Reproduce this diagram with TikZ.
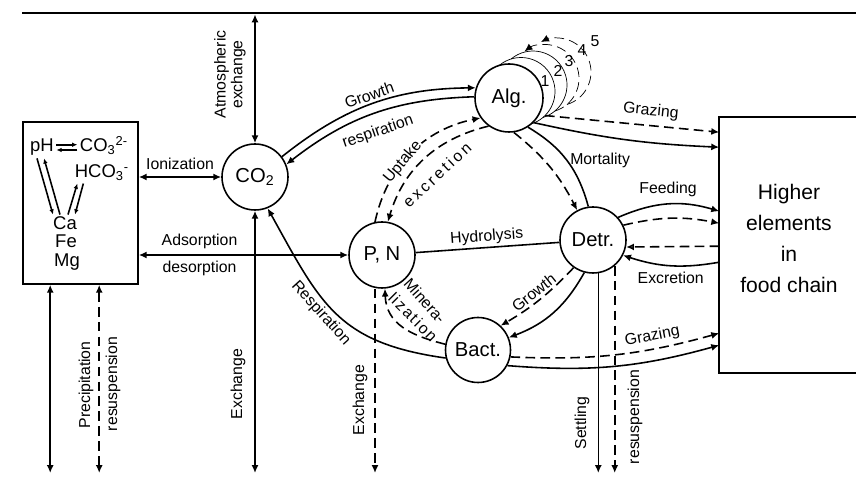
\documentclass[tikz,border=0pt]{standalone}
\usepackage{fontspec}
\setmainfont{Liberation Sans}
\usetikzlibrary{arrows.meta,positioning,backgrounds}
\tikzset{
    %Define standard arrow tip
    >={Latex[length=4.5pt,width=4pt]},
    var/.style={
      circle,
      draw=black, line width=0.9pt,
      fill=white,
      minimum size=1.32cm,
      inner sep=0pt,
      font=\fontsize{11.5}{13}\selectfont},
    punkt/.style={
      rectangle,
      draw=black, line width=0.9pt,
      inner sep=0pt},
    algring/.style={
      circle,
      fill=white,
      minimum size=1.36cm,
      inner sep=0pt, outer sep=0pt},
    lbl/.style={
      font=\fontsize{9}{9.5}\selectfont,
      inner sep=1.5pt},
    chemtxt/.style={
      font=\fontsize{10.5}{11}\selectfont,
      inner sep=1pt},
    dashflow/.style={dash pattern=on 5.5pt off 3pt},
    opentip/.style={-{Latex[open,length=4.5pt,width=4pt]}},
    tinytip/.style={-{Latex[length=3pt,width=2.6pt]}},
}

\begin{document}
\begin{tikzpicture}[node distance=2.5cm, line width=0.9pt]
    \useasboundingbox (0,0) rectangle (17.12,-9.54);
    % water surface and sediment
    \coordinate (sl) at (0.44,-0.26);
    \coordinate (sr) at (17.12,-0.26);
    \coordinate (bot) at (0,-9.46);
    \draw[line width=1.5pt] (sl) -- (sr);

    % compartments
    \node (co2) [var] at (5.10,-3.54)
          {CO\textsubscript{2}};
    \node (pn) [var] [right of=co2, xshift=0.04cm, yshift=-1.56cm]
          {P, N};
    \node (alg) [var, minimum size=1.36cm] [right of=pn, xshift=0.04cm, yshift=3.14cm]
          {Alg.};
    \node (detr) [var] [right of=pn, xshift=1.72cm, yshift=0.30cm]
          {Detr.};
    \node (bact) [var, minimum size=1.30cm] [below of=pn, xshift=1.92cm, yshift=0.60cm]
          {Bact.};

    % algae generations behind Alg.
    \begin{scope}[on background layer]
      \node (ring4) [algring] at ([shift={(0.96,0.52)}]alg.center) {};
      \node (ring3) [algring] at ([shift={(0.72,0.39)}]alg.center) {};
      \node (ring2) [algring] at ([shift={(0.48,0.26)}]alg.center) {};
      \node (ring1) [algring] at ([shift={(0.24,0.13)}]alg.center) {};
      \draw[dashflow, ->] (ring4.287) arc[start angle=-73, end angle=118, radius=0.68cm];
      \draw[dashflow, ->] (ring3.287) arc[start angle=-73, end angle=127, radius=0.68cm];
      \draw (ring2.287) arc[start angle=-73, end angle=130, radius=0.68cm];
      \draw (ring1.287) arc[start angle=-73, end angle=130, radius=0.68cm];
    \end{scope}
    \node (n1) [lbl] at (10.90,-1.62) {1};
    \node (n2) [lbl] at (11.16,-1.42) {2};
    \node (n3) [lbl] at (11.38,-1.22) {3};
    \node (n4) [lbl] at (11.64,-1.00) {4};
    \node (n5) [lbl] at (11.90,-0.82) {5};

    % inorganic box
    \node (minbox) [punkt, minimum width=2.30cm, minimum height=3.24cm] at (1.61,-4.06) {};
    \node (ph) [chemtxt, anchor=base] at (0.84,-3.04) {pH};
    \node (co3) [chemtxt, anchor=base] at (2.08,-3.04) {CO\textsubscript{3}\textsuperscript{2-}};
    \node (hco3) [chemtxt, anchor=base] at (2.04,-3.56) {HCO\textsubscript{3}\textsuperscript{-}};
    \node (ca) [chemtxt, anchor=base] at (1.30,-4.60) {Ca};
    \node (fe) [chemtxt, anchor=base] at (1.32,-4.96) {Fe};
    \node (mg) [chemtxt, anchor=base] at (1.34,-5.33) {Mg};
    \draw[tinytip] ([yshift=1.5pt]ph.mid east) -- ([yshift=1.5pt]co3.mid west);
    \draw[tinytip] ([yshift=-1.5pt]co3.mid west) -- ([yshift=-1.5pt]ph.mid east);
    \draw[tinytip] ([xshift=-0.10cm]ph.south) -- ([xshift=-0.24cm]ca.north);
    \draw[tinytip] ([xshift=-0.10cm]ca.north) -- ([xshift=0.04cm]ph.south);
    \draw[tinytip] ([xshift=0.22cm]hco3.south west) -- ([xshift=0.20cm]ca.north);
    \draw[tinytip] ([xshift=0.06cm]ca.north) -- ([xshift=0.10cm]hco3.south west);

    % higher elements
    \node (hec) [punkt, draw=none, minimum width=2.72cm, minimum height=5.08cm] at (15.76,-4.90) {};
    \draw (hec.north east) -- (hec.north west) -- (hec.south west) -- (hec.south east);
    \node (hect) [font=\fontsize{12}{17.5}\selectfont, align=center] at (15.78,-4.77)
          {Higher\\elements\\in\\food chain};

    % exchange with atmosphere and sediment
    \draw[<->, shorten <=0.8pt] (co2 |- sl) -- (co2);
    \node (latm) [lbl, rotate=90, align=center] at (4.60,-1.49) {Atmospheric\\exchange};
    \draw[<->] (co2.south) -- (co2.south |- bot);
    \node (lexc1) [lbl, rotate=90] at (4.76,-7.68) {Exchange};
    \draw[<->] ([xshift=0.56cm]minbox.south west) -- ([xshift=0.56cm]minbox.south west |- bot);
    \draw[<->, dashflow] ([xshift=1.54cm]minbox.south west) -- ([xshift=1.54cm]minbox.south west |- bot);
    \node (lpre) [lbl, rotate=90] at (1.72,-7.70) {Precipitation};
    \node (lres1) [lbl, rotate=90] at (2.26,-7.68) {resuspension};
    \draw[->, dashflow] ([xshift=-0.14cm]pn.south) -- ([xshift=-0.14cm]pn.south |- bot);
    \node (lexc2) [lbl, rotate=90] at (7.20,-8.00) {Exchange};
    \draw[->] (detr.279) -- (detr.279 |- bot);
    \draw[->, dashflow] (detr.310) -- (detr.310 |- bot);
    \node (lset) [lbl, rotate=90] at (11.64,-8.46) {Settling};
    \node (lres2) [lbl, rotate=90] at (12.70,-8.34) {resuspension};

    % inorganic exchange
    \draw[<->] (minbox.east |- co2) -- (co2)
          node [lbl, above=2.5pt, midway] (lion) {Ionization};
    \draw[<->] (pn.west -| minbox.east) -- (pn.west)
          node [lbl, above=1.5pt, pos=0.29] (lads) {Adsorption}
          node [lbl, below=1.5pt, pos=0.29] (ldes) {desorption};
    \draw (pn) -- node [lbl, above, sloped] (lhyd) {Hydrolysis} (detr);

    % algae
    \draw[->] (co2.37) to[bend left=19]
          node [lbl, above, sloped, pos=0.5] (lgro1) {Growth} (alg.163);
    \draw[->] (alg.178) to[bend right=18] (co2.22);
    \node (lresp1) [lbl, rotate=19] at (7.56,-2.64) {respiration};
    \draw[->, dashflow] (pn.102) to[bend left=33]
          node [lbl, sloped, pos=0.42, fill=white, inner sep=0.5pt] (lupt) {Uptake} (alg.215);
    \draw[->, dashflow] (alg.234) to[bend right=30] (pn.80);
    \node (lexcr) [lbl, rotate=43] at (8.74,-3.50)
          {e\hspace{1.6pt}x\hspace{1.6pt}c\hspace{1.6pt}r\hspace{1.6pt}e\hspace{1.6pt}t\hspace{1.6pt}i\hspace{1.6pt}o\hspace{1.6pt}n};
    \draw (alg.303) to[bend left=22]
          node [lbl, right, pos=0.5] (lmor) {Mortality} (detr.98);
    \draw[->, dashflow] (alg.278) to[bend left=12] (detr.118);
    \draw[->, dashflow] (ring1.315) --
          node [lbl, above=2pt, sloped, pos=0.6] (lgraz1) {Grazing} ([yshift=-0.30cm]hec.north west);
    \draw[->] (alg.315) to[bend right=5] ([yshift=-0.60cm]hec.north west);

    % detritus
    \draw[->] (detr.42) to[bend left=20]
          node [lbl, above=2pt, pos=0.5] (lfee) {Feeding} ([yshift=-1.88cm]hec.north west);
    \draw[->, dashflow] (detr.26) to[bend left=12] ([yshift=-2.12cm]hec.north west);
    \draw[opentip, dashflow] ([yshift=-2.58cm]hec.north west) -- (detr.348);
    \draw[->] ([yshift=-2.90cm]hec.north west) to[bend left=14]
          node [lbl, below=1.5pt, pos=0.5] (lexr) {Excretion} (detr.333);
    \draw[->, dashflow] (detr.235) to[bend left=8]
          node [lbl, above, sloped, pos=0.5] (lgro2) {Growth} (bact.47);
    \draw[->] (detr.255) to[bend left=20] (bact.22);

    % bacteria
    \draw[->, dashflow] (bact.170) to[out=166, in=-88, looseness=1.1] (pn.275);
    \node (lmin1) [lbl, rotate=-48] at (8.50,-6.02) {Minera-};
    \node (lmin2) [lbl, rotate=-45] at (8.26,-6.34) {l\hspace{1pt}i\hspace{1pt}z\hspace{1pt}a\hspace{1pt}t\hspace{1pt}i\hspace{1pt}o\hspace{1pt}n};
    \draw[->] (bact.194) to[out=172, in=-61, looseness=1.2]
          node [lbl, below, sloped, pos=0.55] (lresp2) {Respiration} (co2.292);
    \draw[->, dashflow] (bact.348) to[bend right=9]
          node [lbl, above=1pt, sloped, pos=0.7] (lgraz2) {Grazing} ([yshift=-4.32cm]hec.north west);
    \draw[->] (bact.332) to[bend right=10] ([yshift=-4.56cm]hec.north west);
\end{tikzpicture}
\end{document}
